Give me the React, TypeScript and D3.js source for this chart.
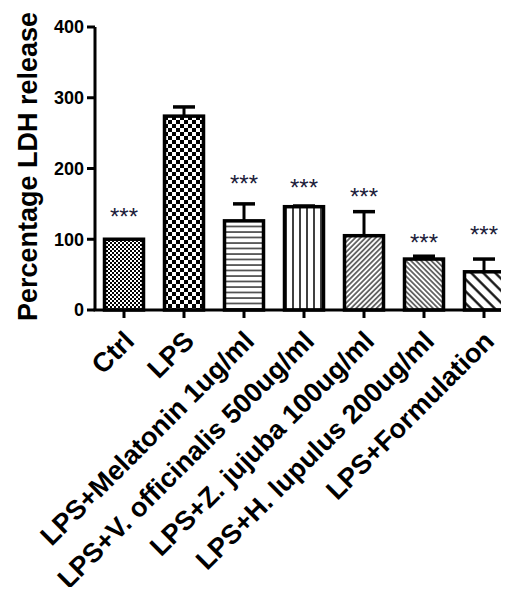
import React, { useEffect, useRef } from "react";
import * as d3 from "d3";

const groups = [
  "Ctrl",
  "LPS",
  "LPS+Melatonin 1ug/ml",
  "LPS+V. officinalis 500ug/ml",
  "LPS+Z. jujuba 100ug/ml",
  "LPS+H. lupulus 200ug/ml",
  "LPS+Formulation",
];
const means = [100, 274, 126, 146, 105, 72, 54];
const errors = [0, 13, 24, 1, 34, 4, 18];
const stars = ["***", "", "***", "***", "***", "***", "***"];
const starLevel = [140, 0, 186, 180, 168, 103, 114];
const patterns = ["fineCheck", "bigCheck", "hLines", "vLines", "diagFine", "diagBack", "diagWide"];
const yTicks = [0, 100, 200, 300, 400];

export default function App() {
  const svgRef = useRef<SVGSVGElement>(null);
  const width = 509;
  const height = 595;

  useEffect(() => {
    const svg = d3.select(svgRef.current);
    svg.selectAll("*").remove();
    const font = "Arial, 'Liberation Sans', sans-serif";

    const x = d3.scalePoint<string>().domain(groups).range([124, 484]);
    const y = d3.scaleLinear().domain([0, 400]).range([310, 27]);
    const barW = 39;

    // fill patterns
    const defs = svg.append("defs");
    const fc = defs.append("pattern").attr("id", "fineCheck").attr("patternUnits", "userSpaceOnUse").attr("width", 4).attr("height", 4);
    fc.append("rect").attr("width", 4).attr("height", 4).attr("fill", "#fff");
    fc.append("rect").attr("width", 2).attr("height", 2).attr("fill", "#000");
    fc.append("rect").attr("x", 2).attr("y", 2).attr("width", 2).attr("height", 2).attr("fill", "#000");

    const bc = defs.append("pattern").attr("id", "bigCheck").attr("patternUnits", "userSpaceOnUse").attr("width", 8).attr("height", 8);
    bc.append("rect").attr("width", 8).attr("height", 8).attr("fill", "#fff");
    bc.append("rect").attr("width", 4).attr("height", 4).attr("fill", "#000");
    bc.append("rect").attr("x", 4).attr("y", 4).attr("width", 4).attr("height", 4).attr("fill", "#000");

    const hl = defs.append("pattern").attr("id", "hLines").attr("patternUnits", "userSpaceOnUse").attr("width", 6).attr("height", 5.5);
    hl.append("rect").attr("width", 6).attr("height", 5.5).attr("fill", "#fff");
    hl.append("line").attr("x1", 0).attr("x2", 6).attr("y1", 1).attr("y2", 1).attr("stroke", "#000").attr("stroke-width", 1.2);

    const vl = defs.append("pattern").attr("id", "vLines").attr("patternUnits", "userSpaceOnUse").attr("width", 7).attr("height", 6).attr("x", 271);
    vl.append("rect").attr("width", 7).attr("height", 6).attr("fill", "#fff");
    vl.append("line").attr("x1", 1).attr("x2", 1).attr("y1", 0).attr("y2", 6).attr("stroke", "#000").attr("stroke-width", 1.5);

    const diag = (id: string, size: number, sw: number, back: boolean) => {
      const p = defs.append("pattern").attr("id", id).attr("patternUnits", "userSpaceOnUse").attr("width", size).attr("height", size)
        .attr("patternTransform", `rotate(${back ? 45 : -45})`);
      p.append("rect").attr("width", size).attr("height", size).attr("fill", "#fff");
      p.append("line").attr("x1", 0).attr("x2", size).attr("y1", size / 2).attr("y2", size / 2).attr("stroke", "#000").attr("stroke-width", sw);
    };
    diag("diagFine", 3.6, 1.1, false);
    diag("diagBack", 3.6, 1.1, true);
    diag("diagWide", 8.5, 2.2, true);

    // bars
    const g = svg.append("g");
    groups.forEach((grp, i) => {
      const cx = x(grp)!;
      const top = y(means[i]);
      if (errors[i] > 0) {
        g.append("line").attr("x1", cx).attr("x2", cx).attr("y1", top).attr("y2", y(means[i] + errors[i]))
          .attr("stroke", "#000").attr("stroke-width", 3);
        g.append("line").attr("x1", cx - 11).attr("x2", cx + 11).attr("y1", y(means[i] + errors[i])).attr("y2", y(means[i] + errors[i]))
          .attr("stroke", "#000").attr("stroke-width", 3.5);
      }
      g.append("rect").attr("x", cx - barW / 2).attr("y", top).attr("width", barW).attr("height", y(0) - top)
        .attr("fill", `url(#${patterns[i]})`).attr("stroke", "#000").attr("stroke-width", 3.5);
      if (stars[i]) {
        g.append("text").attr("x", cx).attr("y", y(starLevel[i])).attr("dy", "0.57em").attr("text-anchor", "middle")
          .attr("font-family", font).attr("font-size", 24).attr("fill", "#1c1c3a").text(stars[i]);
      }
    });

    // y axis
    const ax = svg.append("g").attr("font-family", font);
    ax.append("line").attr("x1", 95).attr("x2", 95).attr("y1", y(400)).attr("y2", y(0)).attr("stroke", "#000").attr("stroke-width", 3);
    yTicks.forEach((t) => {
      ax.append("line").attr("x1", 87).attr("x2", 95).attr("y1", y(t)).attr("y2", y(t)).attr("stroke", "#000").attr("stroke-width", 3);
      ax.append("text").attr("x", 84).attr("y", y(t)).attr("dy", "0.36em").attr("text-anchor", "end")
        .attr("font-size", 18).attr("font-weight", "bold").text(t);
    });
    ax.append("text").attr("transform", `translate(37,${y(200) - 2}) rotate(-90)`).attr("text-anchor", "middle")
      .attr("font-size", 27).attr("font-weight", "bold").text("Percentage LDH release");

    // x axis
    ax.append("line").attr("x1", 93.5).attr("x2", 507).attr("y1", y(0)).attr("y2", y(0)).attr("stroke", "#000").attr("stroke-width", 3);
    groups.forEach((grp) => {
      const cx = x(grp)!;
      ax.append("line").attr("x1", cx).attr("x2", cx).attr("y1", y(0)).attr("y2", y(0) + 8).attr("stroke", "#000").attr("stroke-width", 3);
      ax.append("text").attr("transform", `translate(${cx + 6},${y(0) + 27}) rotate(-45)`).attr("text-anchor", "end")
        .attr("dy", "0.3em").attr("font-size", 27).attr("font-weight", "bold").text(grp);
    });
  }, []);

  return (
    <div style={{ margin: -8 }}>
      <svg ref={svgRef} width={width} height={height} style={{ display: "block", background: "#fff" }} />
    </div>
  );
}
